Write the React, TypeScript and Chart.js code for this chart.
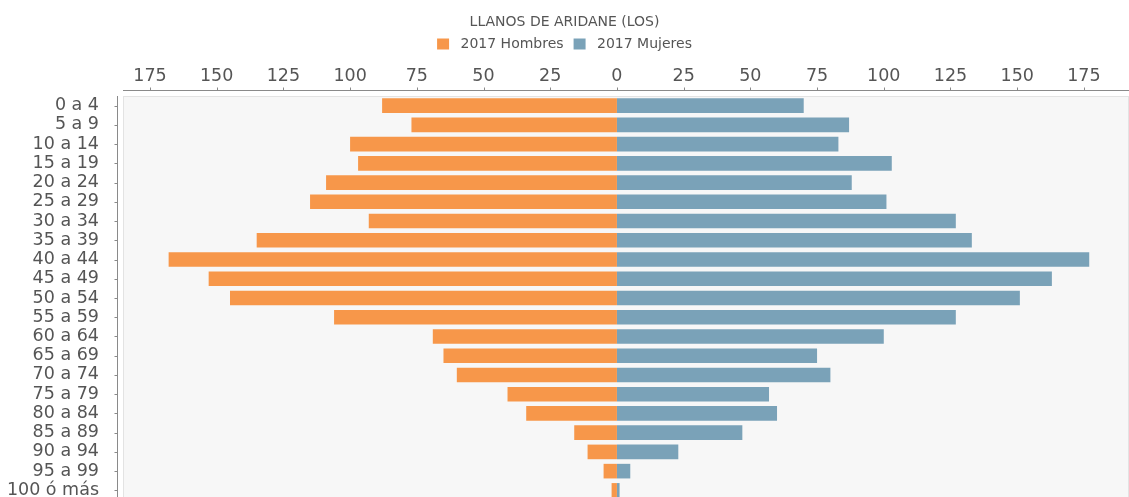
import React, { useEffect, useRef } from "react";
import { Chart, registerables } from "chart.js";

Chart.register(...registerables);

const title = "LLANOS DE ARIDANE (LOS)";
const categories = [
  "0 a 4", "5 a 9", "10 a 14", "15 a 19", "20 a 24", "25 a 29", "30 a 34",
  "35 a 39", "40 a 44", "45 a 49", "50 a 54", "55 a 59", "60 a 64", "65 a 69",
  "70 a 74", "75 a 79", "80 a 84", "85 a 89", "90 a 94", "95 a 99", "100 ó más",
];
const menLabel = "2017 Hombres";
const womenLabel = "2017 Mujeres";
const men = [88, 77, 100, 97, 109, 115, 93, 135, 168, 153, 145, 106, 69, 65, 60, 41, 34, 16, 11, 5, 2];
const women = [70, 87, 83, 103, 88, 101, 127, 133, 177, 163, 151, 127, 100, 75, 80, 57, 60, 47, 23, 5, 1];
const tickValues = [-175, -150, -125, -100, -75, -50, -25, 0, 25, 50, 75, 100, 125, 150, 175];

const FONT = "'DejaVu Sans', sans-serif";

const plotPlugin = {
  id: "plotBox",
  beforeDraw(chart: any) {
    const { ctx, chartArea } = chart;
    const { left, top, right, bottom } = chartArea;
    ctx.save();
    ctx.fillStyle = "#F7F7F7";
    ctx.fillRect(left, top, right - left, bottom - top);
    ctx.strokeStyle = "#E3E3E3";
    ctx.lineWidth = 1;
    ctx.strokeRect(left + 0.5, top + 0.5, right - left - 1, bottom - top - 1);
    ctx.strokeStyle = "#8A8A8A";
    ctx.beginPath();
    const ax = Math.round(top - 6) + 0.5;
    ctx.moveTo(left, ax);
    ctx.lineTo(right, ax);
    const ay = Math.round(left - 6) + 0.5;
    ctx.moveTo(ay, top);
    ctx.lineTo(ay, bottom);
    const xs = chart.scales.x;
    xs.ticks.forEach((_t: any, i: number) => {
      const px = Math.round(xs.getPixelForTick(i)) + 0.5;
      ctx.moveTo(px, ax - 3);
      ctx.lineTo(px, ax);
    });
    const ys = chart.scales.y;
    ys.ticks.forEach((_t: any, i: number) => {
      const py = Math.round(ys.getPixelForTick(i)) + 0.5;
      ctx.moveTo(ay - 3, py);
      ctx.lineTo(ay, py);
    });
    ctx.stroke();
    ctx.restore();
  },
};

export default function App() {
  const ref = useRef<HTMLCanvasElement | null>(null);
  useEffect(() => {
    if (!ref.current) return;
    const chart = new Chart(ref.current, {
      type: "bar",
      data: {
        labels: categories,
        datasets: [
          {
            label: menLabel,
            data: men.map((v) => -v),
            backgroundColor: "#F7974A",
            borderWidth: 0,
            barPercentage: 0.76,
            categoryPercentage: 1,
          },
          {
            label: womenLabel,
            data: women,
            backgroundColor: "#7AA2B8",
            borderWidth: 0,
            barPercentage: 0.76,
            categoryPercentage: 1,
          },
        ],
      },
      options: {
        indexAxis: "y",
        animation: false,
        responsive: false,
        maintainAspectRatio: false,
        devicePixelRatio: 1,
        layout: { padding: 0, autoPadding: false },
        plugins: {
          title: {
            display: true,
            text: title,
            color: "#555",
            font: { family: FONT, size: 14, weight: "normal" },
            padding: { top: 14, bottom: -3.8 },
          },
          legend: {
            display: true,
            position: "top",
            labels: {
              color: "#555",
              font: { family: FONT, size: 14 },
              boxWidth: 12,
              boxHeight: 11,
              padding: 10,
              generateLabels: (chart: any) =>
                Chart.defaults.plugins.legend.labels
                  .generateLabels(chart)
                  .map((l: any) => ({ ...l, text: " " + l.text })),
            },
          },
          tooltip: { enabled: false },
        },
        scales: {
          x: {
            position: "top",
            stacked: true,
            min: -185.1,
            max: 191.9,
            grid: { display: false },
            border: { display: false },
            afterBuildTicks: (scale: any) => {
              scale.ticks = tickValues.map((v) => ({ value: v }));
            },
            afterFit: (scale: any) => {
              scale.height = 35;
              scale.paddingLeft = 0;
              scale.paddingRight = 0;
            },
            ticks: {
              autoSkip: false,
              maxRotation: 0,
              padding: 1,
              color: "#555",
              font: { family: FONT, size: 17.5 },
              callback: (v: any) => String(Math.abs(Number(v))),
            },
          },
          y: {
            stacked: true,
            grid: { display: false },
            border: { display: false },
            afterFit: (scale: any) => {
              scale.width = 123;
              scale.paddingTop = 0;
              scale.paddingBottom = 0;
            },
            ticks: {
              autoSkip: false,
              padding: 16,
              color: "#555",
              font: { family: FONT, size: 17.5 },
            },
          },
        },
      },
      plugins: [plotPlugin],
    });
    return () => chart.destroy();
  }, []);
  return (
    <div style={{ position: "fixed", left: 0, top: 0, width: 1129, height: 500, overflow: "hidden" }}>
      <canvas ref={ref} width={1129} height={500} style={{ display: "block", width: 1129, height: 500 }} />
    </div>
  );
}
